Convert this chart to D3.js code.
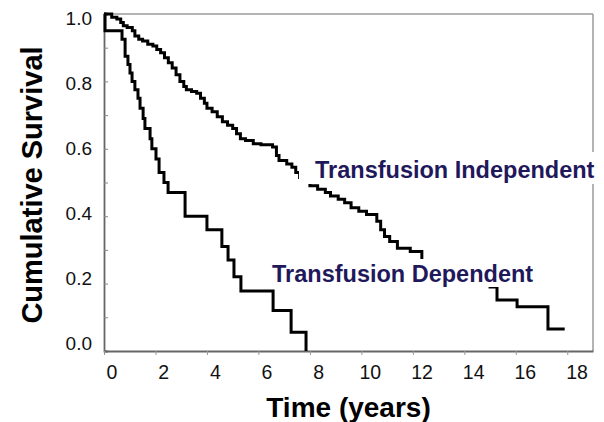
<!DOCTYPE html>
<html>
<head>
<meta charset="utf-8">
<script src="https://cdn.jsdelivr.net/npm/d3@7"></script>
<style>
  body { margin: 0; background: #fff; }
  text { font-family: "Liberation Sans", Arial, sans-serif; }
</style>
</head>
<body>
<script>
// Kaplan-Meier style survival curves

// Transfusion independent group: time (years) where the curve steps, and survival after the step
var indepTimes = [0, 0.3, 0.5, 0.65, 0.75, 0.9, 1.1, 1.2, 1.35, 1.5, 1.7, 1.9, 2.05, 2.2, 2.35, 2.5, 2.65, 2.8, 2.95,
  3.1, 3.2, 3.4, 3.6, 3.75, 3.9, 4.0, 4.2, 4.4, 4.6, 4.8, 5.0, 5.15, 5.3, 5.5, 5.8, 6.1, 6.55, 6.7, 6.8, 7.1,
  7.3, 7.45, 7.6, 7.8, 8.0, 8.3, 8.6, 8.8, 9.1, 9.35, 9.6, 9.9, 10.2, 10.6, 10.75, 10.9, 11.1, 11.4, 11.9, 12.35,
  12.9, 13.5, 14.0, 14.6, 15.0, 15.27, 16.05, 17.25, 17.9];
var indepSurv = [1.0, 0.99, 0.985, 0.975, 0.965, 0.96, 0.95, 0.935, 0.925, 0.92, 0.91, 0.905, 0.895, 0.885, 0.87, 0.855, 0.84, 0.82, 0.8,
  0.785, 0.775, 0.77, 0.765, 0.75, 0.735, 0.72, 0.71, 0.695, 0.68, 0.67, 0.66, 0.645, 0.63, 0.625, 0.615, 0.612, 0.605, 0.58, 0.565, 0.555,
  0.545, 0.53, 0.515, 0.5, 0.49, 0.48, 0.47, 0.46, 0.45, 0.44, 0.425, 0.415, 0.405, 0.385, 0.36, 0.34, 0.325, 0.305, 0.295, 0.262,
  0.25, 0.235, 0.22, 0.205, 0.19, 0.151, 0.131, 0.065, 0.065];

// Transfusion dependent group
var depTimes = [0, 0.04, 0.7, 0.82, 0.93, 1.01, 1.09, 1.2, 1.32, 1.4, 1.52, 1.59, 1.79, 1.86, 2.02, 2.14, 2.33, 2.49,
  3.15, 4.0, 4.58, 4.82, 5.05, 5.32, 6.57, 7.27, 7.85];
var depSurv = [1.0, 0.95, 0.925, 0.875, 0.85, 0.825, 0.8, 0.775, 0.75, 0.72, 0.69, 0.66, 0.63, 0.6, 0.57, 0.53, 0.5, 0.47,
  0.40, 0.36, 0.31, 0.27, 0.22, 0.178, 0.12, 0.056, 0];

// tick values and labels
var xTicks = [0, 2, 4, 6, 8, 10, 12, 14, 16, 18];
var yMinorTicks = [0, 0.1, 0.2, 0.3, 0.4, 0.5, 0.6, 0.7, 0.8, 0.9, 1.0];
var yLabels = [0, 0.2, 0.4, 0.6, 0.8, 1.0];

var svgWidth = 604;
var svgHeight = 422;

// plot area edges
var plot = { left: 104, right: 593, top: 14, bottom: 351 };

var svg = d3.select("body")
  .append("svg")
  .attr("width", svgWidth)
  .attr("height", svgHeight);

var xScale = d3.scaleLinear().domain([0, 19]).range([plot.left, plot.right]);
var yScale = d3.scaleLinear().domain([0, 1]).range([plot.bottom, plot.top]);

// the tick labels in the picture sit a little off the ticks, so they get their own scales
var xLabelScale = d3.scaleLinear().domain([0, 18]).range([112, 577]);
var yLabelScale = d3.scaleLinear().domain([0, 1]).range([343, 18.5]);

// frame: light top and right edges, darker axes
svg.append("line")
  .attr("x1", plot.left).attr("x2", plot.right)
  .attr("y1", plot.top).attr("y2", plot.top)
  .attr("stroke", "#9a9a9a").attr("stroke-width", 1.5);
svg.append("line")
  .attr("x1", plot.right).attr("x2", plot.right)
  .attr("y1", plot.top).attr("y2", plot.bottom)
  .attr("stroke", "#9a9a9a").attr("stroke-width", 1.5);

// y axis with small inner ticks at every 0.1
var leftAxis = d3.axisRight(yScale).tickValues(yMinorTicks).tickSize(4).tickFormat("");
var yAxisGroup = svg.append("g")
  .attr("transform", `translate(${plot.left}, 0)`)
  .call(leftAxis);
yAxisGroup.select(".domain").attr("stroke", "#666").attr("stroke-width", 1.8);
yAxisGroup.selectAll(".tick line").attr("stroke", "#888");

// x axis with small outer ticks
var bottomAxis = d3.axisBottom(xScale).tickValues(xTicks).tickSize(4).tickSizeOuter(0).tickFormat("");
var xAxisGroup = svg.append("g")
  .attr("transform", `translate(0, ${plot.bottom})`)
  .call(bottomAxis);
xAxisGroup.select(".domain").attr("stroke", "#666").attr("stroke-width", 1.8);
xAxisGroup.selectAll(".tick line").attr("stroke", "#999");

// tick labels
svg.selectAll(".ylab")
  .data(yLabels)
  .enter()
  .append("text")
  .attr("class", "ylab")
  .attr("x", 92)
  .attr("y", d => yLabelScale(d))
  .attr("dy", "0.35em")
  .attr("text-anchor", "end")
  .attr("font-family", "Liberation Sans")
  .attr("font-size", 19)
  .attr("fill", "#111")
  .text(d => d.toFixed(1));

svg.selectAll(".xlab")
  .data(xTicks)
  .enter()
  .append("text")
  .attr("class", "xlab")
  .attr("x", d => xLabelScale(d))
  .attr("y", 379)
  .attr("text-anchor", "middle")
  .attr("font-family", "Liberation Sans")
  .attr("font-size", 19.5)
  .attr("fill", "#111")
  .text(d => d);

// survival curves
var stepLine = d3.line()
  .x(d => xScale(d[0]))
  .y(d => yScale(d[1]))
  .curve(d3.curveStepAfter);

var indepData = indepTimes.map((t, i) => [t, indepSurv[i]]);
var depData = depTimes.map((t, i) => [t, depSurv[i]]);

[indepData, depData].forEach(function(series) {
  svg.append("path")
    .datum(series)
    .attr("d", stepLine)
    .attr("fill", "none")
    .attr("stroke", "#000")
    .attr("stroke-width", 3)
    .attr("stroke-linejoin", "miter");
});

// curve labels sit on white boxes that hide the curve under them
svg.append("rect").attr("x", 299).attr("y", 152).attr("width", 301).attr("height", 32).attr("fill", "#fff");
svg.append("rect").attr("x", 268).attr("y", 259).attr("width", 278).attr("height", 28).attr("fill", "#fff");

svg.append("text")
  .attr("x", 315)
  .attr("y", 178)
  .attr("font-size", 23.5)
  .attr("font-weight", "bold")
  .attr("fill", "#1f195c")
  .text("Transfusion Independent");

svg.append("text")
  .attr("x", 272)
  .attr("y", 282)
  .attr("font-size", 23.5)
  .attr("font-weight", "bold")
  .attr("fill", "#1f195c")
  .text("Transfusion Dependent");

// axis titles
svg.append("text")
  .attr("transform", "translate(42, 185) rotate(-90)")
  .attr("text-anchor", "middle")
  .attr("font-size", 29)
  .attr("font-weight", "bold")
  .attr("fill", "#000")
  .text("Cumulative Survival");

svg.append("text")
  .attr("x", (plot.left + plot.right) / 2)
  .attr("y", 417)
  .attr("text-anchor", "middle")
  .attr("font-size", 28)
  .attr("font-weight", "bold")
  .attr("fill", "#000")
  .text("Time (years)");
</script>
</body>
</html>
